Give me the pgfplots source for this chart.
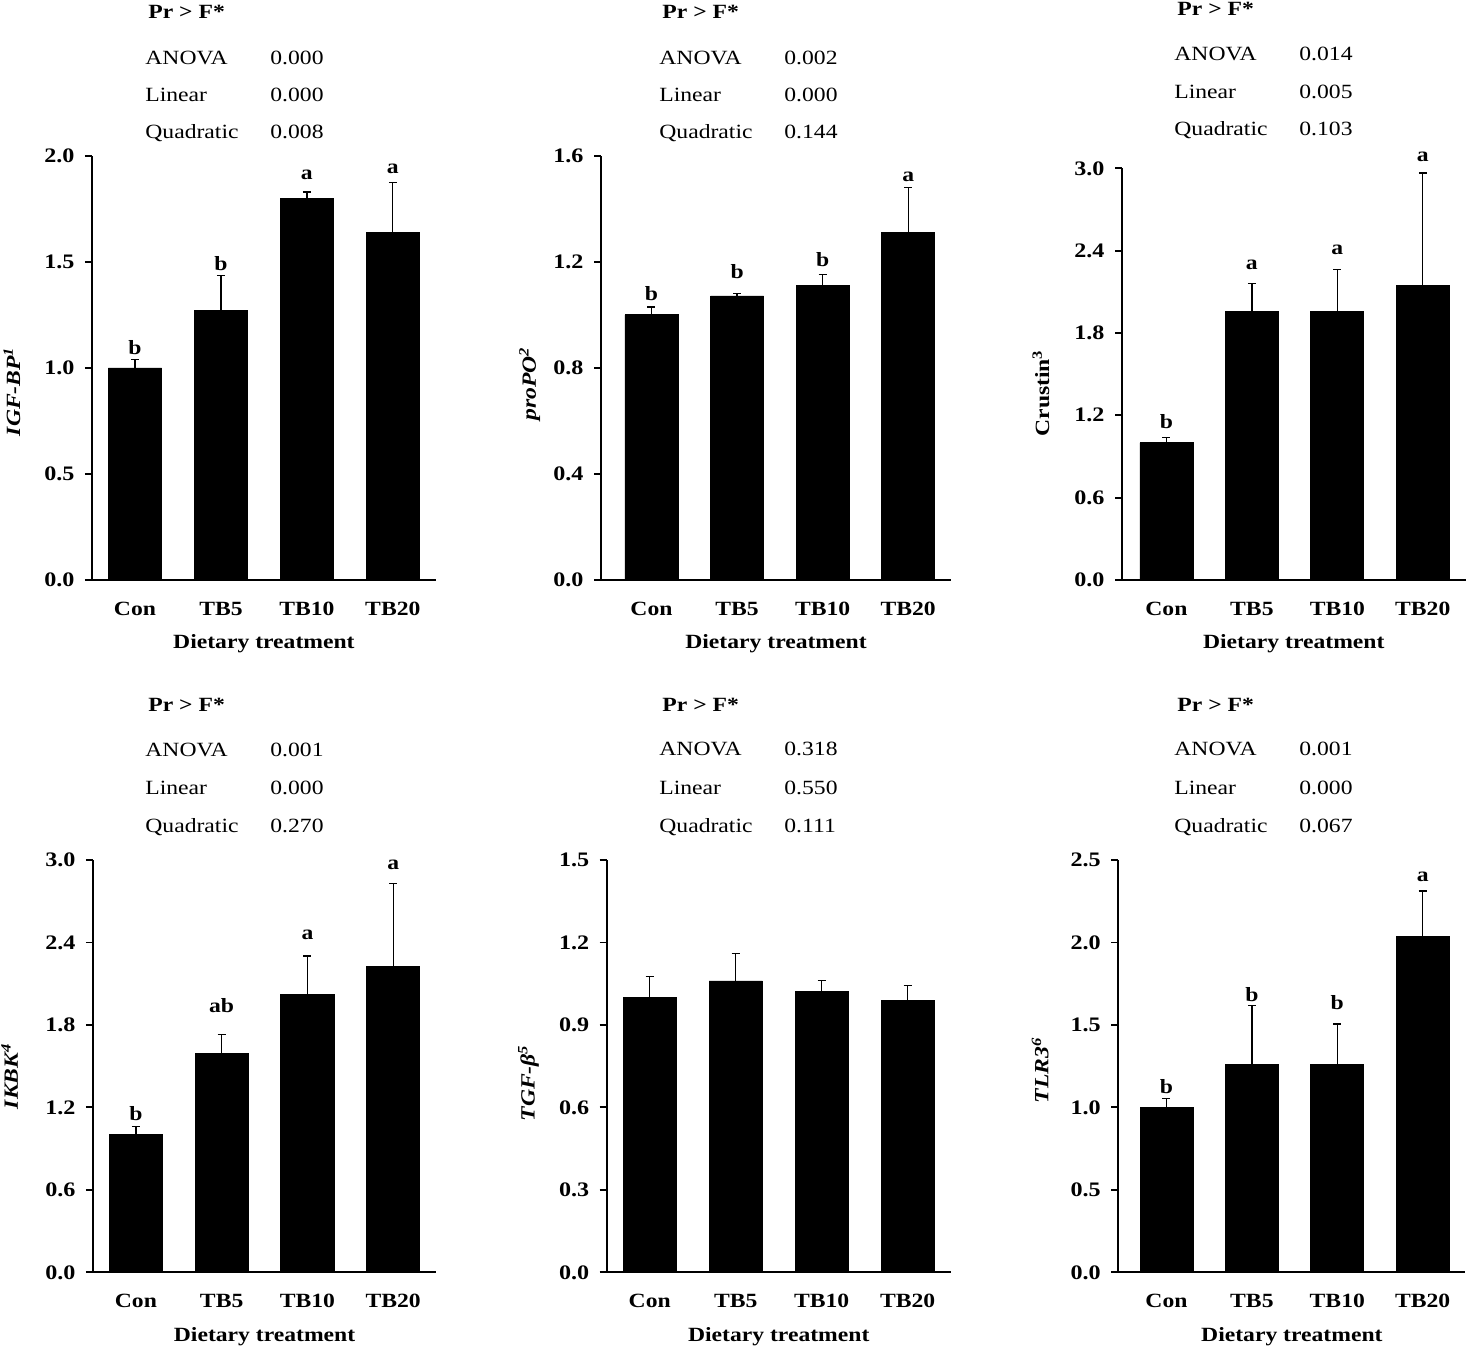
\documentclass[border=0pt]{standalone}
\usepackage{fontspec}
\setmainfont{Liberation Serif}[FakeStretch=1.17]
\usepackage{pgfplots}
\pgfplotsset{compat=1.18}
\usepackage{pgfplotstable}

\newcommand{\fs}{\fontsize{10.1pt}{12pt}\selectfont}
\newcommand{\fsy}{\fontsize{10.3pt}{12pt}\selectfont}
\newcommand{\fst}{\fontsize{10.1pt}{12pt}\selectfont}

% relative expression of each gene: mean, SE, letter group and letter height
\pgfplotstableread{
x y e lab ly
0 1.000 0.040 b 1.066
1 1.270 0.165 b 1.462
2 1.800 0.030 a 1.890
3 1.638 0.238 a 1.918
}\tabIGF
\pgfplotstableread{
x y e lab ly
0 1.000 0.030 b 1.053
1 1.071 0.010 b 1.138
2 1.110 0.043 b 1.181
3 1.310 0.170 a 1.502
}\tabPro
\pgfplotstableread{
x y e lab ly
0 1.000 0.040 b 1.106
1 1.960 0.200 a 2.259
2 1.960 0.300 a 2.369
3 2.145 0.820 a 3.049
}\tabCru
\pgfplotstableread{
x y e lab ly
0 1.000 0.060 b 1.108
1 1.591 0.141 ab 1.889
2 2.023 0.279 a 2.424
3 2.227 0.604 a 2.933
}\tabIKB
\pgfplotstableread{
x y e
0 1.000 0.075
1 1.060 0.100
2 1.022 0.040
3 0.989 0.054
}\tabTGF
\pgfplotstableread{
x y e lab ly
0 1.000 0.055 b 1.085
1 1.263 0.354 b 1.641
2 1.263 0.243 b 1.591
3 2.035 0.277 a 2.369
}\tabTLR

\pgfplotsset{
  gene/.style={
    scale only axis,
    axis x line=bottom, axis y line=left,
    axis line style={-, line width=0.9pt},
    xmax=3.5, ymin=0,
    xtick={0,1,2,3},
    xticklabels={Con,TB5,TB10,TB20},
    xtick style={draw=none},
    ytick style={line width=0.9pt, black},
    tick align=outside,
    major tick length=3.5pt,
    /pgf/number format/assume math mode=true,
    /pgf/number format/fixed,
    /pgf/number format/fixed zerofill,
    /pgf/number format/precision=1,
    xticklabel style={font=\fs\bfseries, yshift=-4pt},
    yticklabel style={font=\fsy\bfseries, xshift=-1.75pt},
    xlabel={Dietary treatment},
    xlabel style={font=\fs\bfseries, at={(axis description cs:0.5,0)}, anchor=base, yshift=-34.5pt},
    clip=false,
  },
  bars/.style={
    ybar, bar width=0.62, fill=black, draw=black,
    error bars/.cd, y dir=plus, y explicit,
    error bar style={line width=0.65pt, black},
    error mark options={rotate=90, mark size=2pt, line width=0.65pt, black},
  },
  letters/.style={
    draw=none, mark=none, nodes near coords, point meta=explicit symbolic,
    every node near coord/.style={font=\fs\bfseries, anchor=base, inner sep=0pt, black},
  },
}

\begin{document}
\begin{tikzpicture}
\useasboundingbox (0,0) rectangle (733pt,672.5pt);

% IGF-BP
\begin{axis}[gene, at={(46pt,382.5pt)}, anchor=south west,
  width=171.9pt, height=212pt, xmin=-0.5, ymax=2.0, ytick={0,0.5,...,2.0},
  ylabel={\bfseries\itshape IGF-BP\textsuperscript{1}},
  ylabel style={font=\fs, at={(axis description cs:-0.2094,0.4446)}, anchor=base}]
\addplot[bars] table[x=x, y=y, y error=e] {\tabIGF};
\addplot[letters] table[x=x, y=ly, meta=lab] {\tabIGF};
\end{axis}

% proPO
\begin{axis}[gene, at={(300.5pt,382.5pt)}, anchor=south west,
  width=175pt, height=212.15pt, xmin=-0.59, ymax=1.6, ytick={0,0.4,...,1.6},
  ylabel={\bfseries\itshape proPO\textsuperscript{2}},
  ylabel style={font=\fs, at={(axis description cs:-0.186,0.4623)}, anchor=base}]
\addplot[bars] table[x=x, y=y, y error=e] {\tabPro};
\addplot[letters] table[x=x, y=ly, meta=lab] {\tabPro};
\end{axis}

% Crustin
\begin{axis}[gene, at={(561pt,382.5pt)}, anchor=south west,
  width=171.75pt, height=205.85pt, xmin=-0.52, ymax=3.0, ytick={0,0.6,...,3.0},
  ylabel={\bfseries Crustin\textsuperscript{3}},
  ylabel style={font=\fs, at={(axis description cs:-0.212,0.4538)}, anchor=base}]
\addplot[bars] table[x=x, y=y, y error=e] {\tabCru};
\addplot[letters] table[x=x, y=ly, meta=lab] {\tabCru};
\end{axis}

% IKBK
\begin{axis}[gene, at={(46.5pt,36.35pt)}, anchor=south west,
  width=171.55pt, height=206.15pt, xmin=-0.5, ymax=3.0, ytick={0,0.6,...,3.0},
  ylabel={\bfseries\itshape IKBK\textsuperscript{4}},
  ylabel style={font=\fs, at={(axis description cs:-0.2187,0.4757)}, anchor=base}]
\addplot[bars] table[x=x, y=y, y error=e] {\tabIKB};
\addplot[letters] table[x=x, y=ly, meta=lab] {\tabIKB};
\end{axis}

% TGF-beta
\begin{axis}[gene, at={(303.35pt,36.35pt)}, anchor=south west,
  width=172pt, height=206.15pt, xmin=-0.5, ymax=1.5, ytick={0,0.3,...,1.5},
  ylabel={\bfseries\itshape TGF-β\textsuperscript{5}},
  ylabel style={font=\fs, at={(axis description cs:-0.2093,0.4588)}, anchor=base}]
\addplot[bars] table[x=x, y=y, y error=e] {\tabTGF};
\end{axis}

% TLR3
\begin{axis}[gene, at={(559.15pt,36.35pt)}, anchor=south west,
  width=173.55pt, height=206.15pt, xmin=-0.564, ymax=2.5, ytick={0,0.5,...,2.5},
  ylabel={\bfseries\itshape TLR3\textsuperscript{6}},
  ylabel style={font=\fs, at={(axis description cs:-0.2017,0.4903)}, anchor=base}]
\addplot[bars] table[x=x, y=y, y error=e] {\tabTLR};
\addplot[letters] table[x=x, y=ly, meta=lab] {\tabTLR};
\end{axis}

% contrast p-values above each panel
\begin{scope}[x=0.5pt, y=-0.5pt, yshift=672.5pt, every node/.style={inner sep=0pt, anchor=base west, font=\fst}]
  \newcommand{\stats}[8]{%
    \node[font=\fst\bfseries] at (#1+3,#2) {Pr > F*};
    \node at (#1,#3) {ANOVA};      \node at (#1+125,#3) {#6};
    \node at (#1,#4) {Linear};     \node at (#1+125,#4) {#7};
    \node at (#1,#5) {Quadratic};  \node at (#1+125,#5) {#8};
  }
  \stats{145}{19}{64.5}{101.5}{139}{0.000}{0.000}{0.008}
  \stats{659}{19}{64.5}{101.5}{139}{0.002}{0.000}{0.144}
  \stats{1174}{15.5}{61}{98.5}{136}{0.014}{0.005}{0.103}
  \stats{145}{711.5}{756.5}{794.5}{832.5}{0.001}{0.000}{0.270}
  \stats{659}{711.5}{756}{794}{832}{0.318}{0.550}{0.111}
  \stats{1174}{711.5}{756}{794}{832}{0.001}{0.000}{0.067}
\end{scope}
\end{tikzpicture}
\end{document}
